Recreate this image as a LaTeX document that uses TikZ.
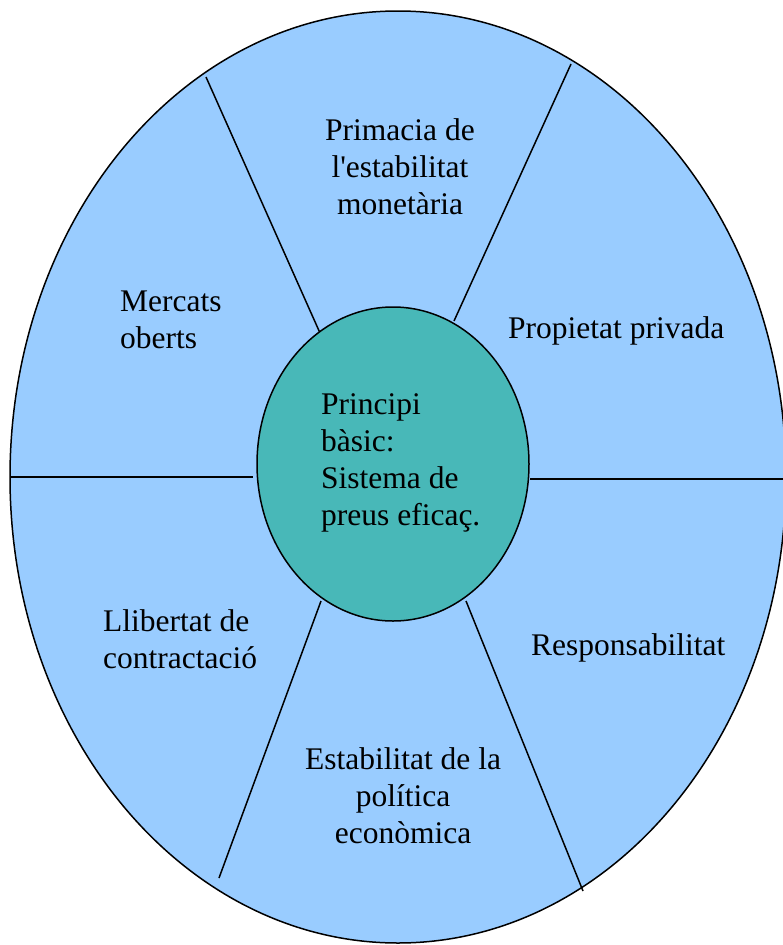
\documentclass[tikz,border=0pt]{standalone}
\usepackage{fontspec}
\setmainfont{Liberation Serif}[Ligatures=TeXOff]
\usetikzlibrary{shapes.geometric}
\definecolor{outerblue}{HTML}{99CCFF}
\definecolor{innerteal}{HTML}{48B8B8}
\begin{document}
\begin{tikzpicture}[x=1pt,y=-1pt,
  lbl/.style={inner sep=0pt,font=\fontsize{31.5}{37}\selectfont},
  spoke/.style={line width=1.5pt,draw=black}]
\useasboundingbox (0,0) rectangle (783,945);
% outer ellipse
\node[ellipse,draw=black,line width=1.5pt,fill=outerblue,minimum width=776pt,minimum height=932pt,inner sep=0pt] (outer) at (398,477) {};
% spokes
\coordinate (ul1) at (206,77);   \coordinate (ul2) at (320,333);
\coordinate (ur1) at (571,64);   \coordinate (ur2) at (454,321);
\coordinate (l1) at (10,477);    \coordinate (l2) at (253,477);
\coordinate (r1) at (530,479);   \coordinate (r2) at (790,479);
\coordinate (ll1) at (321,601);  \coordinate (ll2) at (219,878);
\coordinate (lr1) at (466,601);  \coordinate (lr2) at (583,891);
\draw[spoke] (ul1) -- (ul2);
\draw[spoke] (ur1) -- (ur2);
\draw[spoke] (l1) -- (l2);
\draw[spoke] (r1) -- (r2);
\draw[spoke] (ll1) -- (ll2);
\draw[spoke] (lr1) -- (lr2);
% inner ellipse
\node[ellipse,draw=black,line width=1.5pt,fill=innerteal,minimum width=272pt,minimum height=314pt,inner sep=0pt] (inner) at (393,464) {};
% labels (anchor base = baseline of last line)
\node[lbl,align=left,anchor=base west] (center) at (321,525) {Principi\\bàsic:\\Sistema de\\preus eficaç.};
\node[lbl,align=center,anchor=base] (top) at (400,214) {Primacia de\\l'estabilitat\\monetària};
\node[lbl,align=left,anchor=base west] (mercats) at (120,348) {Mercats\\oberts};
\node[lbl,anchor=base west] (propietat) at (508,338) {Propietat privada};
\node[lbl,align=left,anchor=base west] (llibertat) at (103,668) {Llibertat de\\contractació};
\node[lbl,anchor=base west] (resp) at (531,655) {Responsabilitat};
\node[lbl,align=center,anchor=base] (estab) at (403,843) {Estabilitat de la\\política\\econòmica};
\end{tikzpicture}
\end{document}
